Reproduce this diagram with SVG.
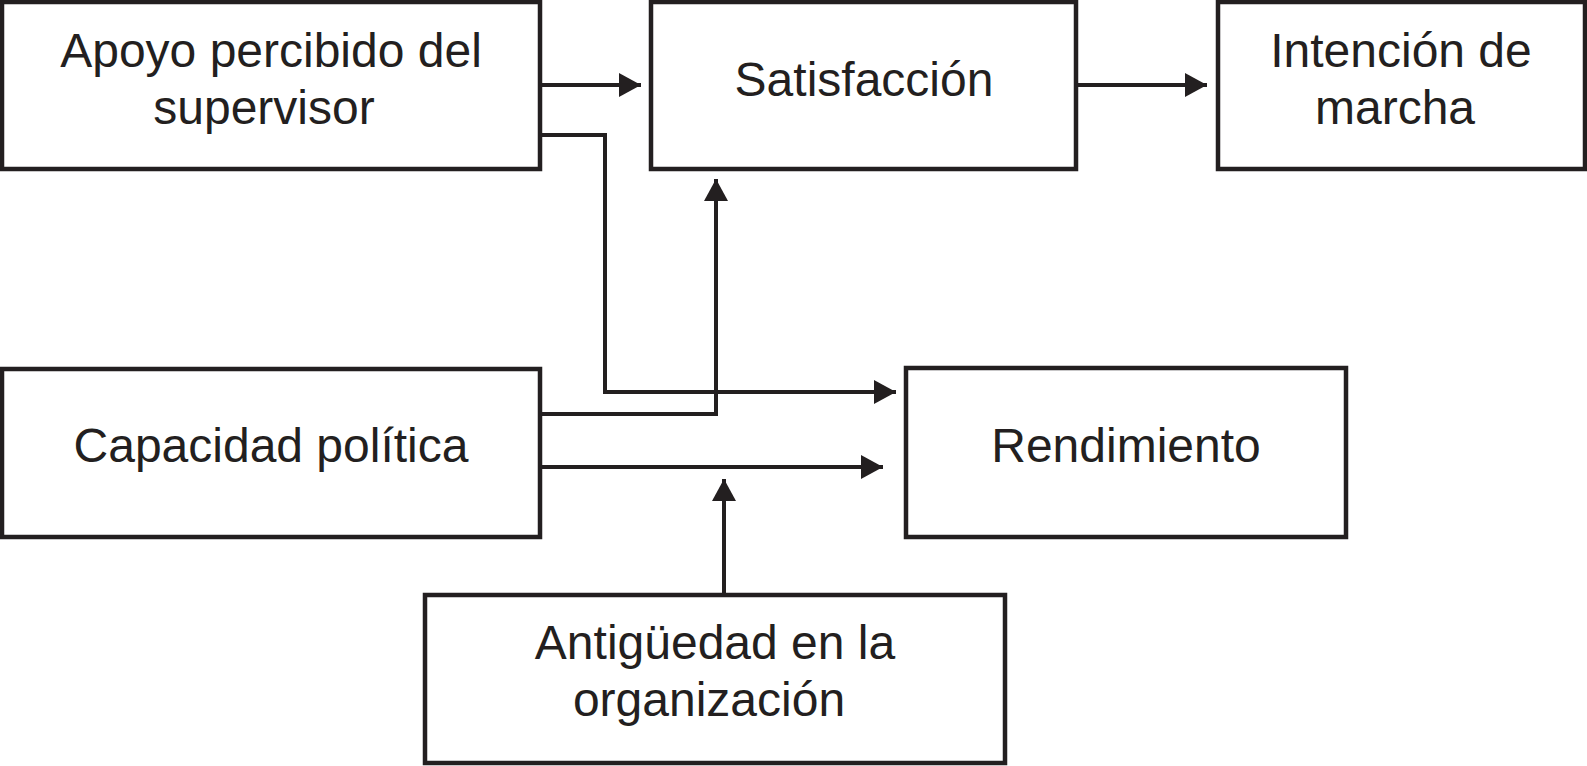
<svg xmlns="http://www.w3.org/2000/svg" width="1587" height="766" viewBox="0 0 1587 766">
<style>
.box{fill:#fff;stroke:#231f20;stroke-width:4.5}
.lbl{font-family:"Liberation Sans",Arial,sans-serif;font-size:48px;fill:#231f20;text-anchor:middle}
.con{fill:none;stroke:#231f20;stroke-width:4}
</style>
<defs>
<marker id="ah" markerUnits="userSpaceOnUse" markerWidth="24" markerHeight="26" refX="22" refY="12" orient="auto" viewBox="0 0 24 24">
<path d="M0,0 L22,12 L0,24 Z" fill="#231f20"/>
</marker>
</defs>
<rect width="1587" height="766" fill="#fff"/>
<g id="apoyo"><rect class="box" x="2" y="2" width="538" height="167"/><text class="lbl" x="271" y="67">Apoyo percibido del</text><text class="lbl" x="264" y="124">supervisor</text></g>
<g id="satisfaccion"><rect class="box" x="651" y="2" width="425" height="167"/><text class="lbl" x="864" y="96">Satisfacción</text></g>
<g id="intencion"><rect class="box" x="1218" y="2" width="367" height="167"/><text class="lbl" x="1401" y="67">Intención de</text><text class="lbl" x="1395" y="124">marcha</text></g>
<g id="capacidad"><rect class="box" x="2" y="369" width="538" height="168"/><text class="lbl" x="271" y="462">Capacidad política</text></g>
<g id="rendimiento"><rect class="box" x="906" y="368" width="440" height="169"/><text class="lbl" x="1126" y="462">Rendimiento</text></g>
<g id="antiguedad"><rect class="box" x="425" y="595" width="580" height="168"/><text class="lbl" x="715" y="659">Antigüedad en la</text><text class="lbl" x="709" y="716">organización</text></g>
<g id="connectors">
<path class="con" d="M540,85 H641" marker-end="url(#ah)"/>
<path class="con" d="M1076,85 H1207" marker-end="url(#ah)"/>
<path class="con" d="M540,135 H605 V392 H896" marker-end="url(#ah)"/>
<path class="con" d="M540,414 H716 V179" marker-end="url(#ah)"/>
<path class="con" d="M540,467 H883" marker-end="url(#ah)"/>
<path class="con" d="M724,595 V479" marker-end="url(#ah)"/>
</g>
</svg>
